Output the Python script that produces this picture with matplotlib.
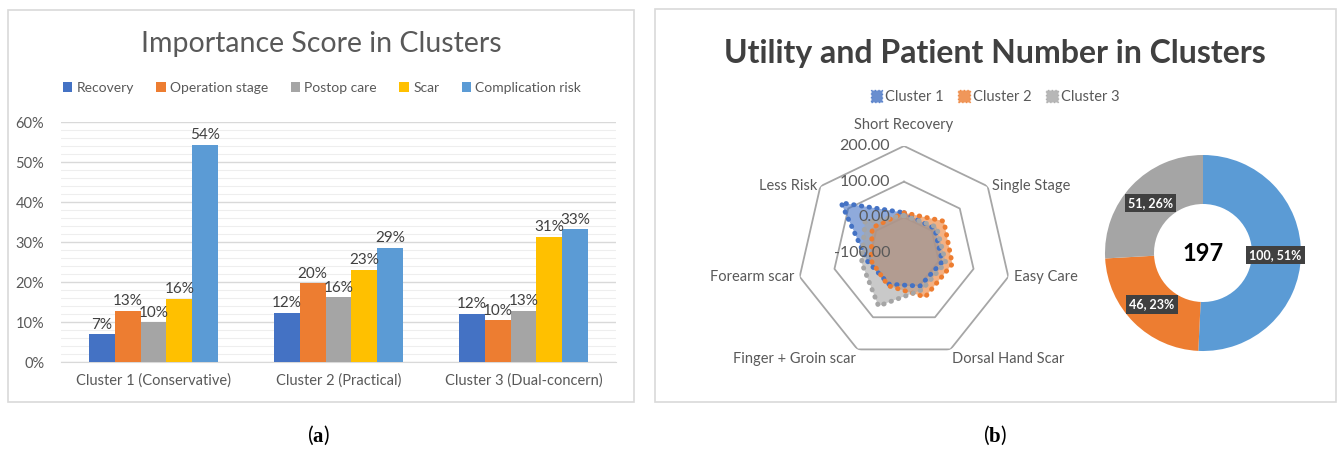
import numpy as np
import matplotlib
matplotlib.use("Agg")
import matplotlib.pyplot as plt
from matplotlib.patches import Rectangle, Patch

plt.rcParams['font.family'] = ['Lato', 'DejaVu Sans']
plt.rcParams['mathtext.fontset'] = 'custom'
plt.rcParams['mathtext.rm'] = 'Liberation Serif'
plt.rcParams['mathtext.bf'] = 'Liberation Serif:bold'

# importance scores per cluster
clusters = ["Cluster 1 (Conservative)", "Cluster 2 (Practical)", "Cluster 3 (Dual-concern)"]
attributes = ["Recovery", "Operation stage", "Postop care", "Scar", "Complication risk"]
recovery = [0.069, 0.123, 0.121]
operation_stage = [0.128, 0.197, 0.104]
postop_care = [0.100, 0.162, 0.128]
scar = [0.158, 0.231, 0.313]
complication_risk = [0.543, 0.286, 0.332]
bar_colors = ["#4472C4", "#ED7D31", "#A5A5A5", "#FFC000", "#5B9BD5"]

# utilities per cluster (radar)
axes_labels = ["Short Recovery", "Single Stage", "Easy Care", "Dorsal Hand Scar",
               "Finger + Groin scar", "Forearm scar", "Less Risk"]
cluster1 = [13, 10, 10, 3, -3, 5, 126]
cluster2 = [13, 43, 39, 37, 2, -5, 14]
cluster3 = [5, 17, 20, 15, 65, 22, 40]
radar_ticks = [-100, 0, 100, 200]
radar_colors = ["#4472C4", "#ED7D31", "#A5A5A5"]

# patients per cluster (donut)
patients = [100, 46, 51]
donut_colors = ["#5B9BD5", "#ED7D31", "#A5A5A5"]

W, H = 1344, 450
fig = plt.figure(figsize=(13.44, 4.5), dpi=100)


def box(x0, y0, x1, y1):
    # pixel box (top-left origin) -> figure fraction rect
    return [x0 / W, 1 - y1 / H, (x1 - x0) / W, (y1 - y0) / H]


# panel frames
for x0, y0, x1, y1 in [(8, 10, 634, 402), (655, 9, 1336, 402)]:
    fig.patches.append(Rectangle((x0 / W, 1 - y1 / H), (x1 - x0) / W, (y1 - y0) / H,
                                 transform=fig.transFigure, fill=False,
                                 edgecolor="#D9D9D9", lw=1.2))

# ---- (a) grouped bars ----
ax = fig.add_axes(box(61, 122, 616, 362))
series = [recovery, operation_stage, postop_care, scar, complication_risk]
x = np.arange(len(clusters))
bw = 0.14
for i, (vals, name) in enumerate(zip(series, attributes)):
    pos = x + (i - 2) * bw
    ax.bar(pos, vals, bw, color=bar_colors[i], label=name, zorder=3)
    for xp, v in zip(pos, vals):
        ax.text(xp, v + 0.006, f"{v:.0%}", ha="center", va="bottom",
                fontsize=11, color="#404040", zorder=4)

ax.set_ylim(0, 0.6)
ax.set_xlim(-0.5, 2.5)
ax.set_yticks(np.arange(0, 0.61, 0.1))
ax.set_yticklabels([f"{t:.0%}" for t in np.arange(0, 0.61, 0.1)])
ax.set_yticks(np.arange(0, 0.6, 0.02), minor=True)
ax.grid(axis="y", which="major", color="#D9D9D9", lw=1.0, zorder=0)
ax.grid(axis="y", which="minor", color="#EEEEEE", lw=0.8, zorder=0)
ax.set_xticks(x)
ax.set_xticklabels(clusters)
ax.tick_params(axis="both", which="both", length=0, labelsize=10.5, labelcolor="#595959")
ax.tick_params(axis="y", pad=12)
ax.tick_params(axis="x", pad=8)
for s in ["top", "right", "left"]:
    ax.spines[s].set_visible(False)
ax.spines["bottom"].set_color("#D9D9D9")

fig.text(321 / W, 1 - 44 / H, "Importance Score in Clusters", ha="center", va="center",
         fontsize=20.5, color="#595959")
fig.legend(*ax.get_legend_handles_labels(), loc="center", bbox_to_anchor=(322 / W, 1 - 88 / H),
           ncol=5, frameon=False, fontsize=10, handlelength=0.7, handleheight=0.7,
           handletextpad=0.3, columnspacing=1.6, labelcolor="#595959")

# ---- (b) radar ----
cx, cy, R = 904, 253, 107
rax = fig.add_axes(box(cx - R, cy - R, cx + R, cy + R), projection="polar")
rax.set_theta_zero_location("N")
rax.set_theta_direction(-1)
rax.set_ylim(-100, 200)
n = len(axes_labels)
theta = np.arange(n) * 2 * np.pi / n
closed = np.append(theta, theta[0])
for t in radar_ticks[1:]:
    rax.plot(closed, [t] * (n + 1), color="#A6A6A6", lw=1.3, zorder=1)
for t in radar_ticks:
    rax.annotate(f"{t:.2f}", (0, t), xytext=(-10, 0), textcoords="offset points",
                 ha="right", va="center", fontsize=11.5, color="#595959", zorder=5,
                 annotation_clip=False)
for vals, c in zip([cluster1, cluster2, cluster3], radar_colors):
    v = np.append(vals, vals[0])
    rax.fill(closed, v, color=c, alpha=0.6, lw=0, zorder=2)
    rax.plot(closed, v, color=c, lw=3.5, linestyle=(0, (0.1, 1.5)),
             dash_capstyle="round", zorder=3)
rax.grid(False)
rax.set_xticks([])
rax.set_yticks([])
rax.spines["polar"].set_visible(False)
rax.patch.set_alpha(0)

offsets = [(0, 10, "center", "bottom"), (3, 0, "left", "center"), (4, 0, "left", "center"),
           (1, -2, "left", "top"), (-1, -2, "right", "top"), (-4, 0, "right", "center"),
           (-2, 0, "right", "center")]
for t, lab, (dx, dy, ha, va) in zip(theta, axes_labels, offsets):
    rax.annotate(lab, (t, 200), xytext=(dx, dy), textcoords="offset points",
                 ha=ha, va=va, fontsize=10.5, color="#595959", annotation_clip=False)

fig.text(995 / W, 1 - 53 / H, "Utility and Patient Number in Clusters", ha="center", va="center",
         fontsize=23, fontweight="bold", color="#404040")
handles = [Patch(facecolor=c, edgecolor=c, alpha=0.8, linestyle=":") for c in radar_colors]
fig.legend(handles, ["Cluster 1", "Cluster 2", "Cluster 3"], loc="center",
           bbox_to_anchor=(995 / W, 1 - 97 / H), ncol=3, frameon=False, fontsize=10.5,
           handlelength=0.8, handleheight=0.8, handletextpad=0.2, columnspacing=1.0,
           labelcolor="#595959")

# ---- (b) donut ----
dx0, dy0, DR = 1203, 253, 98
dax = fig.add_axes(box(dx0 - DR, dy0 - DR, dx0 + DR, dy0 + DR))
total = sum(patients)
wedges, texts, autotexts = dax.pie(
    patients, colors=donut_colors, startangle=90, counterclock=False,
    wedgeprops=dict(width=0.5, edgecolor="none"), pctdistance=0.74,
    autopct=lambda p: f"{round(p * total / 100)}, {p:.0f}%")
for t in autotexts:
    t.set_color("white")
    t.set_fontsize(9)
    t.set_fontweight("bold")
    t.set_bbox(dict(facecolor="#404040", edgecolor="none", boxstyle="square,pad=0.25"))
dax.text(0, 0, f"{total}", ha="center", va="center", fontsize=17, fontweight="bold", color="black")
dax.set_xlim(-1, 1)
dax.set_ylim(-1, 1)
dax.set_aspect("equal")
dax.axis("off")

# captions
fig.text(318 / W, 1 - 435 / H, r"($\mathbf{a}$)", ha="center", va="center", fontsize=15)
fig.text(995 / W, 1 - 435 / H, r"($\mathbf{b}$)", ha="center", va="center", fontsize=15)

fig.savefig("out.png", dpi=100)
